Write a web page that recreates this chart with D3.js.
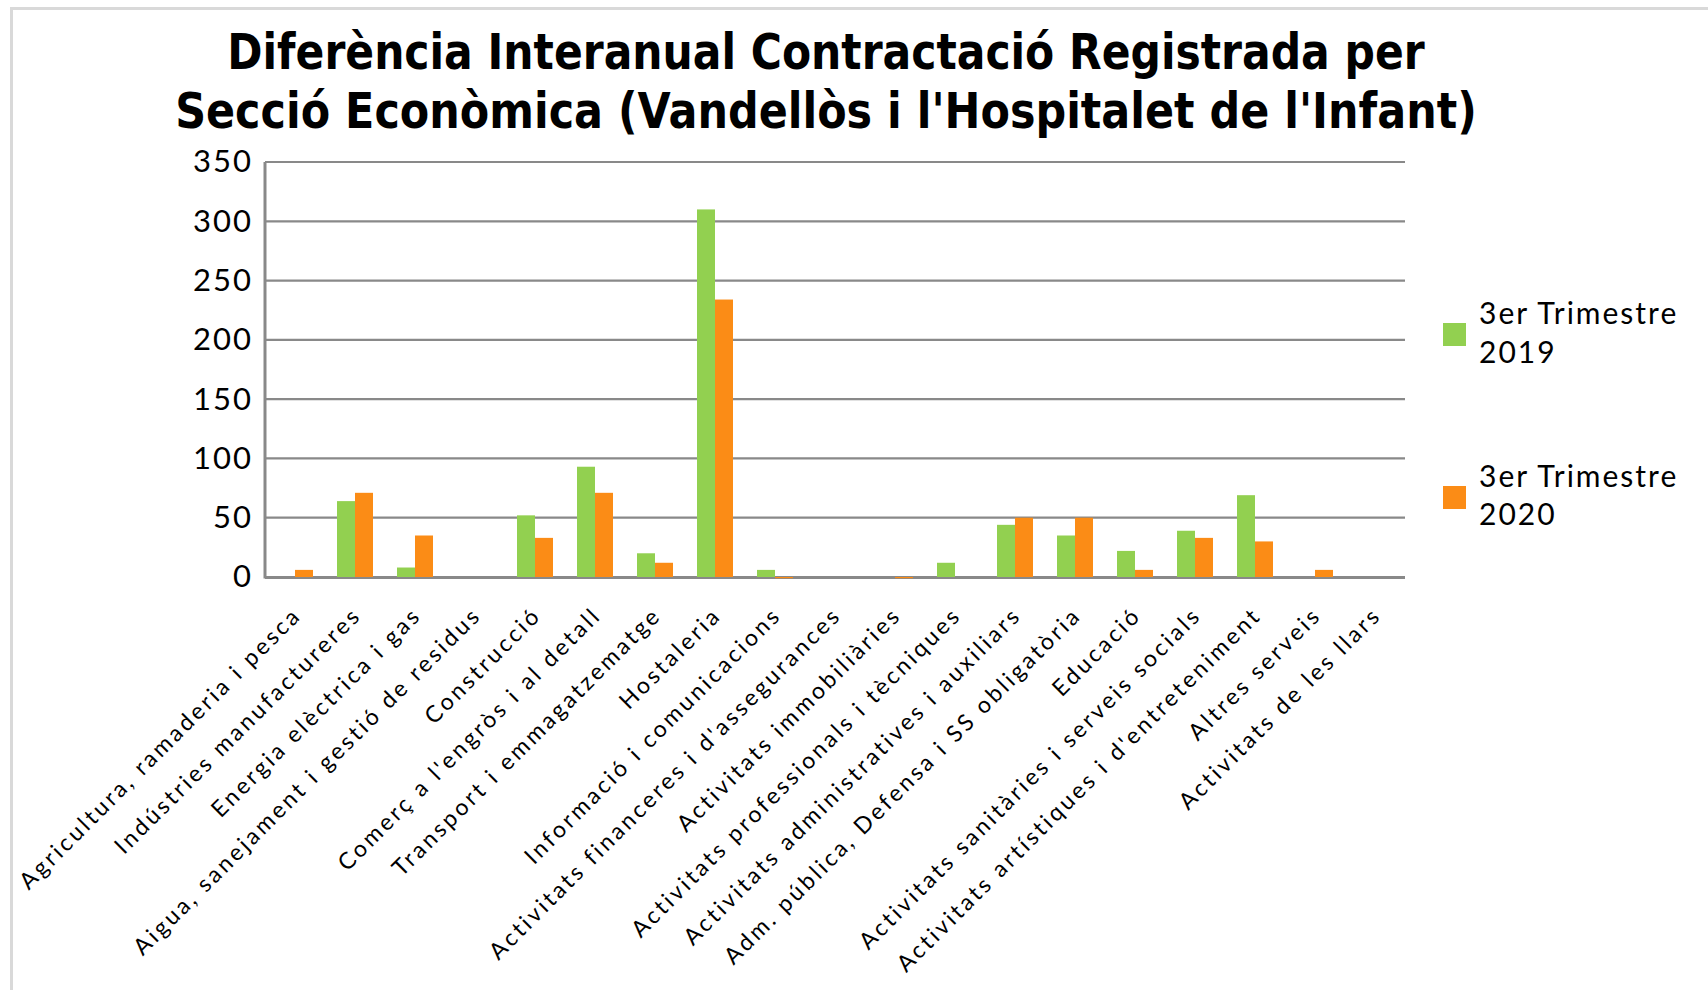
<!DOCTYPE html>
<html>
<head>
<meta charset="utf-8">
<script src="https://cdn.jsdelivr.net/npm/d3@7"></script>
<style>
  html, body { margin: 0; padding: 0; background: #ffffff; }
  svg { display: block; }
</style>
</head>
<body>
<svg id="chart" width="1708" height="990"></svg>
<script>
// Sections (secció econòmica) along the category axis
const categories = [
  "Agricultura, ramaderia i pesca",
  "Indústries manufactureres",
  "Energia elèctrica i gas",
  "Aigua, sanejament i gestió de residus",
  "Construcció",
  "Comerç a l'engròs i al detall",
  "Transport i emmagatzematge",
  "Hostaleria",
  "Informació i comunicacions",
  "Activitats financeres i d'assegurances",
  "Activitats immobiliàries",
  "Activitats professionals i tècniques",
  "Activitats administratives i auxiliars",
  "Adm. pública, Defensa i SS obligatòria",
  "Educació",
  "Activitats sanitàries i serveis socials",
  "Activitats artístiques i d'entreteniment",
  "Altres serveis",
  "Activitats de les llars"
];

// Year-on-year difference in registered contracts, 3rd quarter
const values2019 = [0, 64, 8, 0, 52, 93, 20, 310, 6, 0, 0, 12, 44, 35, 22, 39, 69, 0, 0];
const values2020 = [6, 71, 35, 0, 33, 71, 12, 234, -1, 0, -1, 0, 50, 50, 6, 33, 30, 6, 0];

const seriesNames = ["3er Trimestre 2019", "3er Trimestre 2020"];
const seriesColors = ["#92D050", "#FB8C16"];
const yTicks = [0, 50, 100, 150, 200, 250, 300, 350];

const titleLines = [
  "Diferència Interanual Contractació Registrada per",
  "Secció Econòmica (Vandellòs i l'Hospitalet de l'Infant)"
];

const svg = d3.select("#chart");
const plot = { left: 265, right: 1405, top: 162, bottom: 577 };

// Chart frame
svg.append("line").attr("x1", 10).attr("x2", 1708).attr("y1", 8.5).attr("y2", 8.5)
  .attr("stroke", "#d9d9d9").attr("stroke-width", 3);
svg.append("line").attr("x1", 11.5).attr("x2", 11.5).attr("y1", 7).attr("y2", 990)
  .attr("stroke", "#d9d9d9").attr("stroke-width", 3);

// Title: bold type, condensed horizontally to each line's width
const titleSpec = [
  { y: 69, width: 1198 },
  { y: 128, width: 1302 }
];
const titleCx = 826;
titleLines.forEach((t, i) => {
  const txt = svg.append("text")
    .attr("x", 0).attr("y", 0)
    .attr("text-anchor", "middle")
    .attr("font-family", "'DejaVu Sans', sans-serif")
    .attr("font-weight", "bold")
    .attr("font-size", 50)
    .attr("fill", "#000")
    .text(t);
  const w = txt.node().getComputedTextLength();
  txt.attr("transform", `translate(${titleCx},${titleSpec[i].y}) scale(${titleSpec[i].width / w},1)`);
});

const x = d3.scaleBand().domain(categories).range([plot.left, plot.right]).padding(0);
const xs = d3.scaleBand().domain(seriesNames)
  .range([x.bandwidth() * 0.2, x.bandwidth() * 0.8]).padding(0);
const y = d3.scaleLinear().domain([0, 350]).range([plot.bottom, plot.top]);

// Gridlines
svg.append("g").selectAll("line").data(yTicks.filter(d => d !== 0)).join("line")
  .attr("x1", plot.left).attr("x2", plot.right)
  .attr("y1", d => y(d)).attr("y2", d => y(d))
  .attr("stroke", "#898989").attr("stroke-width", 2.2);

// Vertical axis line
svg.append("line")
  .attr("x1", plot.left).attr("x2", plot.left)
  .attr("y1", y(350)).attr("y2", y(0) + 1.5)
  .attr("stroke", "#898989").attr("stroke-width", 3);

// Y tick labels
const yAxis = d3.axisLeft(y).tickValues(yTicks).tickSize(0).tickPadding(12);
const yg = svg.append("g").attr("transform", `translate(${plot.left},0)`).call(yAxis);
yg.select(".domain").remove();
yg.selectAll("text")
  .attr("font-family", "Lato, 'Open Sans', sans-serif")
  .attr("font-size", 31)
  .attr("letter-spacing", 2)
  .attr("fill", "#000");

// Zero line
svg.append("line")
  .attr("x1", plot.left).attr("x2", plot.right)
  .attr("y1", y(0) + 0.5).attr("y2", y(0) + 0.5)
  .attr("stroke", "#898989").attr("stroke-width", 3);

// Bars
const rows = categories.map((c, i) => ({ cat: c, vals: [values2019[i], values2020[i]] }));
const groups = svg.append("g").selectAll("g").data(rows).join("g")
  .attr("transform", d => `translate(${x(d.cat)},0)`);
groups.selectAll("rect")
  .data(d => d.vals.map((v, k) => ({ v, k })))
  .join("rect")
  .attr("x", d => xs(seriesNames[d.k]))
  .attr("width", xs.bandwidth())
  .attr("y", d => Math.min(y(d.v), y(0)))
  .attr("height", d => Math.abs(y(d.v) - y(0)))
  .attr("fill", d => seriesColors[d.k]);

// Category labels, rotated 45 degrees
svg.append("g").selectAll("text").data(categories).join("text")
  .attr("transform", d => `translate(${x(d) + x.bandwidth() / 2 + 2},${plot.bottom + 34}) rotate(-45)`)
  .attr("text-anchor", "end")
  .attr("dy", "0.35em")
  .attr("font-family", "Lato, 'Open Sans', sans-serif")
  .attr("font-size", 23)
  .attr("letter-spacing", 3)
  .attr("fill", "#000")
  .text(d => d);

// Legend
const legendSpec = [
  { sq: 323, l1: 324, l2: 363 },
  { sq: 486, l1: 487, l2: 525 }
];
seriesNames.forEach((s, i) => {
  const g = svg.append("g");
  g.append("rect").attr("x", 1443).attr("y", legendSpec[i].sq)
    .attr("width", 23).attr("height", 23).attr("fill", seriesColors[i]);
  const parts = s.split(" ");
  const t = g.append("text")
    .attr("font-family", "Lato, 'Open Sans', sans-serif")
    .attr("font-size", 30).attr("letter-spacing", 2).attr("fill", "#000");
  t.append("tspan").attr("x", 1479).attr("y", legendSpec[i].l1).text(parts.slice(0, 2).join(" "));
  t.append("tspan").attr("x", 1479).attr("y", legendSpec[i].l2).text(parts[2]);
});
</script>
</body>
</html>
